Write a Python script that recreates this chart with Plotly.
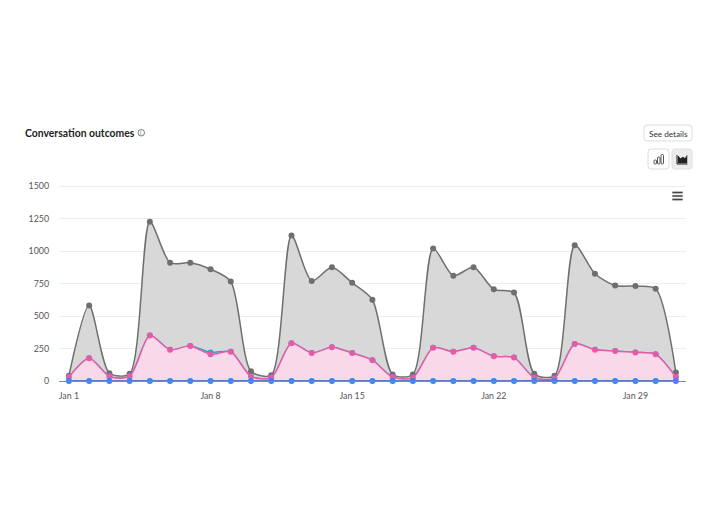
import plotly.graph_objects as go

# Daily labels, Jan 1 to Jan 31
days = [f"Jan {d}" for d in range(1, 32)]
tick_labels = ["Jan 1", "Jan 8", "Jan 15", "Jan 22", "Jan 29"]
y_ticks = [0, 250, 500, 750, 1000, 1250, 1500]

total = [40, 580, 60, 55, 1225, 910, 910, 860, 765, 75, 45,
         1120, 770, 875, 755, 625, 50, 50, 1020, 810, 875,
         705, 680, 55, 40, 1045, 825, 735, 730, 710, 65]
teal = [30, 175, 35, 35, 350, 240, 270, 220, 225, 35, 25,
        290, 215, 260, 215, 160, 30, 25, 255, 225, 255,
        190, 180, 25, 20, 285, 240, 230, 220, 205, 30]
pink = [30, 175, 35, 35, 350, 240, 270, 205, 225, 35, 25,
        290, 215, 260, 215, 160, 30, 25, 255, 225, 255,
        190, 180, 25, 20, 285, 240, 230, 220, 205, 30]
blue = [0] * 31

FONT = "Lato"
W, H = 715, 525
# the plot area runs a little above 1500: plotly drops gridlines within 1px of the edge
L, R, T, B = 59, 686, 184, 381
PX_PER_UNIT = 195 / 1500


# Page pixels to paper coordinates, for the card furniture around the chart
def px(x):
    return (x - L) / (R - L)


def py(y):
    return (B - y) / (B - T)


def box(x0, y0, x1, y1, line="#e1e1e1", fill="white", width=1):
    return dict(type="rect", xref="paper", yref="paper",
                x0=px(x0), x1=px(x1), y0=py(y0), y1=py(y1),
                line=dict(color=line, width=width), fillcolor=fill, layer="above")


def rounded(x0, y0, x1, y1, r=3, line="#dddddd", fill="white"):
    a0, a1, b0, b1 = px(x0), px(x1), py(y0), py(y1)
    rx, ry = r / (R - L), r / (B - T)
    path = (f"M {a0+rx} {b0} L {a1-rx} {b0} Q {a1} {b0} {a1} {b0-ry} "
            f"L {a1} {b1+ry} Q {a1} {b1} {a1-rx} {b1} L {a0+rx} {b1} "
            f"Q {a0} {b1} {a0} {b1+ry} L {a0} {b0-ry} Q {a0} {b0} {a0+rx} {b0} Z")
    return dict(type="path", xref="paper", yref="paper", path=path,
                line=dict(color=line, width=1), fillcolor=fill, layer="above")


fig = go.Figure()


def add_series(values, line_color, marker_color, fill=None, width=1.5):
    fig.add_trace(go.Scatter(
        x=days, y=values,
        mode="lines+markers",
        line=dict(color=line_color, width=width, shape="spline", smoothing=0.75),
        marker=dict(color=marker_color, size=6),
        fill="tozeroy" if fill else None,
        fillcolor=fill,
        cliponaxis=False,
        showlegend=False,
    ))


add_series(total, "#6f6f6f", "#6f6f6f", "#d8d8d8")
add_series(teal, "#2ea3c9", "#2ea3c9")
add_series(pink, "#e35ca8", "#e35ca8", "#f8d8e9")
add_series(blue, "#3a5aa8", "#3b82f6")

shapes = [
    # info icon next to the title
    dict(type="circle", xref="paper", yref="paper", x0=px(138), x1=px(144.5),
         y0=py(136), y1=py(129.5), line=dict(color="#555555", width=0.8), layer="above"),
    # See details button
    rounded(644, 125, 692, 141),
    # chart type toggles
    rounded(648, 149, 669, 169),
    rounded(672, 149, 692, 169, line="#e0e0e0", fill="#ededed"),
    # outlined bars icon
    rounded(654, 160, 656.5, 164, r=1, line="#555555", fill="white"),
    rounded(657.5, 157, 660, 164, r=1, line="#555555", fill="white"),
    rounded(661, 154.5, 663.5, 164, r=1, line="#555555", fill="white"),
    # filled area icon
    dict(type="path", xref="paper", yref="paper", layer="above",
         path=(f"M {px(678)} {py(163)} L {px(678)} {py(156)} L {px(680.5)} {py(158.5)} "
               f"L {px(683)} {py(157)} L {px(685)} {py(158.5)} L {px(687)} {py(155.5)} "
               f"L {px(687)} {py(163)} Z"),
         fillcolor="#222222", line=dict(color="#222222", width=0.5)),
    dict(type="path", xref="paper", yref="paper", layer="above",
         path=f"M {px(677)} {py(155)} L {px(677)} {py(164)} L {px(687.5)} {py(164)}",
         line=dict(color="#222222", width=1)),
]
# hamburger menu
for y in (192.5, 196, 199.5):
    shapes.append(box(672.5, y - 0.7, 682.5, y + 0.7, line="#444444", fill="#444444", width=0.3))

annotations = [
    dict(text="<b>Conversation outcomes</b>", x=px(22.5), y=py(133), xanchor="left",
         font=dict(size=10.4, color="#222222")),
    dict(text="i", x=px(141.2), y=py(132.8), xanchor="center",
         font=dict(size=5.5, color="#555555")),
    dict(text="See details", x=px(668), y=py(133.5), xanchor="center",
         font=dict(size=8.2, color="#333333")),
]
for a in annotations:
    a.update(xref="paper", yref="paper", yanchor="middle", showarrow=False)

fig.update_layout(
    width=W, height=H,
    margin=dict(l=L, r=W - R, t=T, b=H - B, pad=0),
    paper_bgcolor="white",
    plot_bgcolor="white",
    font=dict(family=FONT, size=8.8, color="#555555"),
    shapes=shapes,
    annotations=annotations,
    xaxis=dict(
        type="category", range=[-0.49, 30.5],
        tickmode="array", tickvals=tick_labels, ticktext=tick_labels,
        showgrid=False, zeroline=False, ticks="",
        showline=True, linecolor="#888888", linewidth=1,
        ticklabelstandoff=6,
    ),
    yaxis=dict(
        range=[0, (B - T) / PX_PER_UNIT], tickvals=y_ticks,
        gridcolor="#eeeeee", gridwidth=1, zeroline=False,
        showline=False, ticks="", ticklabelstandoff=9,
    ),
)

fig.write_html("out.html", post_script="document.body.style.margin='0';",
               config=dict(displayModeBar=False))
